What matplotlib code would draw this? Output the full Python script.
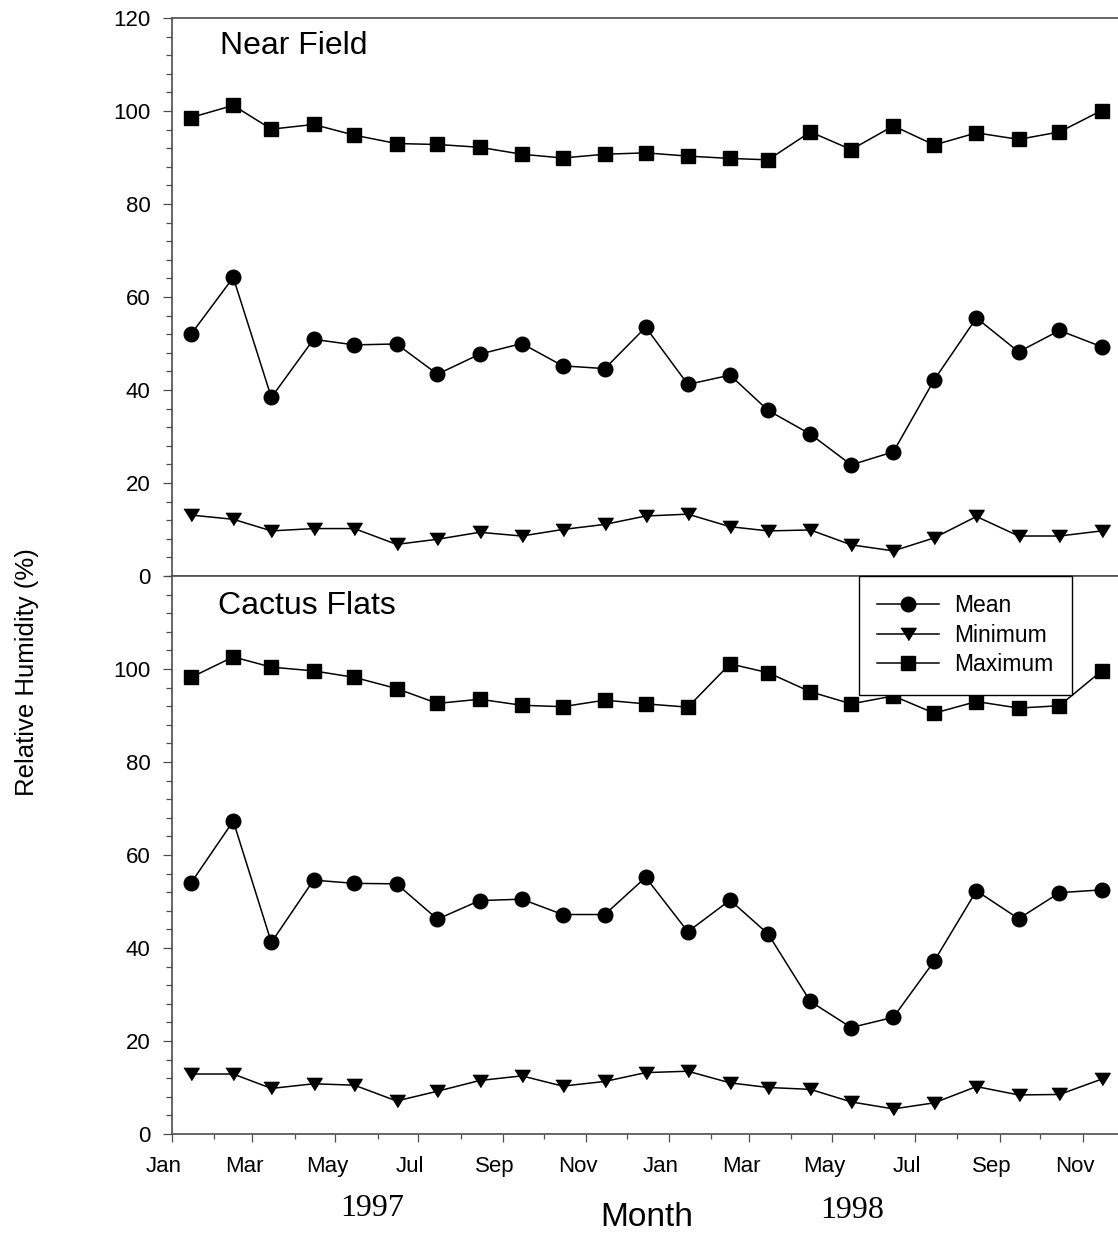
import numpy as np
import matplotlib
matplotlib.use("Agg")
import matplotlib.pyplot as plt
import matplotlib.dates as mdates
import matplotlib.transforms as mtransforms

plt.rcParams['font.family'] = ['Liberation Sans', 'DejaVu Sans']

# sampling dates (mid month)
dates = np.array(['1997-01-15', '1997-02-15', '1997-03-15', '1997-04-15', '1997-05-15',
                  '1997-06-15', '1997-07-15', '1997-08-15', '1997-09-15', '1997-10-15',
                  '1997-11-15', '1997-12-15', '1998-01-15', '1998-02-15', '1998-03-15',
                  '1998-04-15', '1998-05-15', '1998-06-15', '1998-07-15', '1998-08-15',
                  '1998-09-15', '1998-10-15', '1998-11-15'], dtype='datetime64[D]')

# Near Field
nf_mean = [52.0, 64.2, 38.4, 50.9, 49.7, 49.9, 43.4, 47.7, 50.0, 45.2, 44.6, 53.5,
           41.2, 43.2, 35.6, 30.5, 23.9, 26.7, 42.2, 55.5, 48.2, 52.8, 49.3]
nf_min = [13.1, 12.2, 9.7, 10.2, 10.2, 6.8, 7.9, 9.4, 8.6, 10.0, 11.1, 12.9,
          13.3, 10.6, 9.7, 9.9, 6.7, 5.4, 8.2, 12.8, 8.6, 8.6, 9.7]
nf_max = [98.6, 101.2, 96.1, 97.1, 94.8, 93.0, 92.8, 92.2, 90.7, 89.9, 90.7, 91.0,
          90.3, 89.8, 89.5, 95.5, 91.7, 96.8, 92.7, 95.3, 93.9, 95.5, 100.1]

# Cactus Flats
cf_mean = [54.0, 67.3, 41.2, 54.6, 53.9, 53.8, 46.2, 50.2, 50.5, 47.2, 47.2, 55.2,
           43.5, 50.3, 43.0, 28.5, 22.9, 25.1, 37.2, 52.3, 46.3, 51.9, 52.5]
cf_min = [12.9, 12.9, 9.8, 10.8, 10.5, 7.1, 9.2, 11.5, 12.5, 10.3, 11.3, 13.2,
          13.5, 11.0, 10.0, 9.6, 6.9, 5.4, 6.7, 10.2, 8.4, 8.5, 11.8]
cf_max = [98.2, 102.6, 100.4, 99.6, 98.2, 95.8, 92.6, 93.5, 92.2, 91.9, 93.3, 92.5,
          91.8, 101.1, 99.2, 95.1, 92.5, 94.2, 90.5, 93.0, 91.6, 92.1, 99.6]

W, H = 1118, 1234
fig = plt.figure(figsize=(W / 100, H / 100), dpi=100)

def px_box(left, top, right, bottom):
    return [left / W, 1 - bottom / H, (right - left) / W, (bottom - top) / H]

ax1 = fig.add_axes(px_box(172, 18, 1118, 576))
ax2 = fig.add_axes(px_box(172, 576, 1118, 1134))

tri = [(-1, 0.8), (1, 0.8), (0, -0.8)]
line_kw = dict(color='black', lw=1.1, markerfacecolor='black', markeredgecolor='black')

for ax, mean, mn, mx in [(ax1, nf_mean, nf_min, nf_max), (ax2, cf_mean, cf_min, cf_max)]:
    ax.plot(dates, mean, marker='o', ms=10.5, label='Mean', **line_kw)
    ax.plot(dates, mn, marker=tri, ms=11, label='Minimum', **line_kw)
    ax.plot(dates, mx, marker='s', ms=10, label='Maximum', **line_kw)
    ax.set_xlim(np.datetime64('1997-01-01'), np.datetime64('1998-11-27'))
    ax.set_ylim(0, 120)
    ax.spines['right'].set_visible(False)
    for s in ['left', 'top', 'bottom']:
        ax.spines[s].set_color('0.3')
        ax.spines[s].set_linewidth(1.2)
    ax.set_yticks(np.arange(0, 121, 4), minor=True)
    ax.tick_params(axis='y', which='major', length=6.5, width=0.9, color='0.3',
                   labelsize=16, pad=9)
    ax.tick_params(axis='y', which='minor', length=4.3, width=0.9, color='0.3')
    ax.xaxis.set_major_locator(mdates.MonthLocator(bymonth=[1, 3, 5, 7, 9, 11]))
    ax.xaxis.set_minor_locator(mdates.MonthLocator(bymonth=[2, 4, 6, 8, 10, 12]))
    ax.xaxis.set_major_formatter(mdates.DateFormatter('%b'))

ax1.set_yticks(np.arange(0, 121, 20))
ax1.tick_params(axis='x', which='both', bottom=False, labelbottom=False)
ax2.set_yticks(np.arange(0, 101, 20))
ax2.tick_params(axis='x', which='major', length=6, width=0.9, color='0.3',
                labelsize=16, pad=10)
ax2.tick_params(axis='x', which='minor', length=3.8, width=0.9, color='0.3')

# labels sit slightly left of their ticks in the original
offset = mtransforms.ScaledTranslation(-8 / 100, 0, fig.dpi_scale_trans)
for t in ax2.xaxis.get_major_ticks():
    t.label1.set_transform(t.label1.get_transform() + offset)

fig.text(220 / W, 1 - 54 / H, 'Near Field', fontsize=23, ha='left', va='baseline')
fig.text(218 / W, 1 - 614 / H, 'Cactus Flats', fontsize=23, ha='left', va='baseline')

leg = ax2.legend(loc='upper left', bbox_to_anchor=((859 - 172) / 946, 1.0),
                 borderaxespad=0, fontsize=16.5, frameon=True, fancybox=False,
                 framealpha=1, edgecolor='black', handlelength=2.7,
                 handletextpad=0.65, borderpad=0.8, labelspacing=0.28)
leg.get_frame().set_linewidth(1.0)

fig.text(27 / W, 1 - 672 / H, 'Relative Humidity (%)', fontsize=18.5, rotation=90,
         ha='center', va='center')
fig.text(647 / W, 1 - 1218 / H, 'Month', fontsize=24, ha='center', va='center')
fig.text(372 / W, 1 - 1209 / H, '1997', fontsize=23, ha='center', va='center',
         family='Liberation Serif')
fig.text(852 / W, 1 - 1210 / H, '1998', fontsize=23, ha='center', va='center',
         family='Liberation Serif')

fig.savefig('out.png', dpi=100)
